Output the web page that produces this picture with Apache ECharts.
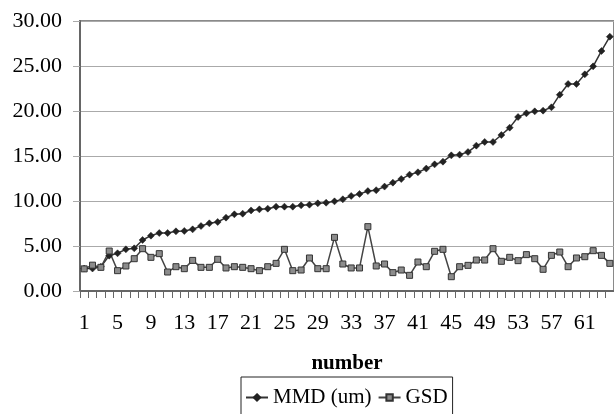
<!DOCTYPE html>
<html>
<head>
<meta charset="utf-8">
<script src="https://cdn.jsdelivr.net/npm/echarts@6/dist/echarts.min.js"></script>
<style>html,body{margin:0;padding:0;background:#fff}#c{width:614px;height:414px}</style>
</head>
<body>
<div id="c"></div>
<script>
var categories = [];
for (var i = 1; i <= 64; i++) categories.push(String(i));
var mmd = [2.5,2.5,2.7,3.93,4.19,4.63,4.74,5.67,6.15,6.44,6.44,6.63,6.67,6.85,7.22,7.52,7.67,8.15,8.52,8.59,
  8.95,9.07,9.15,9.37,9.37,9.37,9.52,9.59,9.74,9.81,9.96,10.19,10.56,10.78,11.1,11.2,11.6,12.04,12.44,12.93,13.19,
  13.6,14.07,14.37,15.07,15.15,15.44,16.15,16.56,16.56,17.33,18.15,19.33,19.74,19.96,20.04,20.41,21.81,23.0,23.0,24.07,24.96,26.67,28.26];
var gsd = [2.46,2.87,2.63,4.44,2.26,2.78,3.59,4.7,3.74,4.15,2.11,2.7,2.48,3.4,2.63,2.63,3.52,2.56,2.7,2.63,
  2.48,2.26,2.7,3.07,4.63,2.26,2.33,3.67,2.48,2.48,5.96,3.0,2.56,2.56,7.15,2.78,3.0,2.04,2.33,1.74,3.22,
  2.7,4.41,4.63,1.59,2.7,2.85,3.44,3.44,4.7,3.3,3.74,3.37,4.04,3.59,2.41,3.96,4.33,2.7,3.67,3.81,4.48,3.96,3.07];
var yTicks = [0,5,10,15,20,25,30];

var font = 'Liberation Serif';
var chart = echarts.init(document.getElementById('c'));
chart.setOption({
  animation: false,
  grid: {left: 80, right: -2, top: 21, bottom: 123, show: true, borderColor: '#8a8a8a', borderWidth: 2, backgroundColor: 'transparent'},
  legend: {
    left: 241, top: 377,
    padding: [10, 5, 8, 4],
    borderColor: '#222', borderWidth: 1,
    itemWidth: 22, itemHeight: 8, itemGap: 6,
    textStyle: {fontFamily: font, fontSize: 21, color: '#000'},
    data: ['MMD (um)', 'GSD']
  },
  xAxis: {
    type: 'category', data: categories, boundaryGap: true,
    name: 'number', nameLocation: 'middle', nameGap: 62,
    nameTextStyle: {fontFamily: font, fontSize: 21, fontWeight: 'bold', color: '#000'},
    axisLine: {lineStyle: {color: '#666', width: 2}},
    axisTick: {show: true, interval: 0, length: 7, lineStyle: {color: '#666', width: 1}},
    axisLabel: {interval: 3, margin: 21, fontFamily: font, fontSize: 22, color: '#000'},
    splitLine: {show: false}
  },
  yAxis: {
    type: 'value', min: 0, max: 30, interval: 5,
    axisLine: {show: true, lineStyle: {color: '#666', width: 2}},
    axisTick: {show: true, length: 7, lineStyle: {color: '#aaa'}},
    axisLabel: {margin: 18, fontFamily: font, fontSize: 22, color: '#000',
      formatter: function (v) { return yTicks.indexOf(v) >= 0 ? v.toFixed(2) : ''; }},
    splitLine: {show: true, lineStyle: {color: '#aaa', width: 1}}
  },
  series: [
    {
      name: 'MMD (um)', type: 'line', data: mmd, showAllSymbol: true,
      symbol: 'diamond', symbolSize: 7,
      lineStyle: {color: '#333', width: 1.5},
      itemStyle: {color: '#222', borderColor: '#222', borderWidth: 0.5}
    },
    {
      name: 'GSD', type: 'line', data: gsd, showAllSymbol: true,
      symbol: 'rect', symbolSize: 6,
      lineStyle: {color: '#444', width: 1.5},
      itemStyle: {color: '#8c8c8c', borderColor: '#333', borderWidth: 1}
    }
  ]
});
</script>
</body>
</html>
